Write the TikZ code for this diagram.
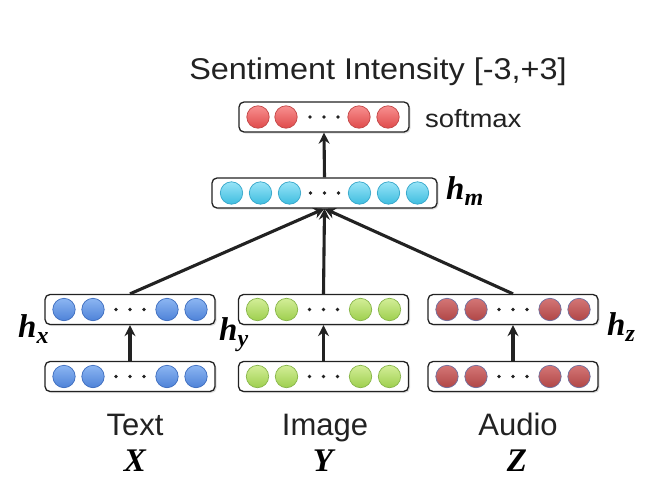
\documentclass[tikz,border=0pt]{standalone}
\usepackage{fontspec}
\setmainfont{Liberation Sans}
\newfontfamily\hfont{Liberation Serif}
\usetikzlibrary{arrows.meta,shadows}
\definecolor{blueT}{HTML}{8CB6F2}\definecolor{blueB}{HTML}{4E82D8}\definecolor{blueD}{HTML}{3C6CBE}
\definecolor{greenT}{HTML}{D3EE98}\definecolor{greenB}{HTML}{9ECF4E}\definecolor{greenD}{HTML}{88B64A}
\definecolor{cyanT}{HTML}{98E4F7}\definecolor{cyanB}{HTML}{3EBDE0}\definecolor{cyanD}{HTML}{34A6CA}
\definecolor{redT}{HTML}{F79090}\definecolor{redB}{HTML}{E04A4A}\definecolor{redD}{HTML}{C24646}
\definecolor{audT}{HTML}{D47676}\definecolor{audB}{HTML}{B04646}\definecolor{audD}{HTML}{6E6E9E}
\definecolor{ink}{HTML}{222222}
\tikzset{
  layerbox/.style={draw=ink, rounded corners=5pt, line width=1.3pt, fill=white,
    minimum height=30pt, inner sep=0pt,
    drop shadow={opacity=0.25, shadow xshift=1.5pt, shadow yshift=-1.5pt}},
  bluec/.style={top color=blueT, bottom color=blueB, draw=blueD, line width=0.7pt},
  greenc/.style={top color=greenT, bottom color=greenB, draw=greenD, line width=0.7pt},
  cyanc/.style={top color=cyanT, bottom color=cyanB, draw=cyanD, line width=0.7pt},
  redc/.style={top color=redT, bottom color=redB, draw=redD, line width=0.7pt},
  audc/.style={top color=audT, bottom color=audB, draw=audD, line width=0.7pt},
  arr/.style={draw=ink, line width=3.1pt, -{Stealth[length=11pt,width=11pt]}},
  lbl/.style={inner sep=0pt, text=ink, font=\fontsize{31}{36}\selectfont},
  mlbl/.style={inner sep=0pt, text=black, font=\hfont\bfseries\itshape\fontsize{33}{36}\selectfont},
}
\newcommand{\mylayer}[6]{%
  \node[layerbox, minimum width=#4] (#1) at (#2,#3) {};
  \foreach \o in {#5} \path[#6] ([xshift=\o pt]#1.center) circle (11.2pt);
  \foreach \o in {-14,0,14} \fill[ink] ([xshift=\o pt]#1.center) circle (1.9pt);
}
\newcommand{\hsub}[1]{h\raisebox{-6pt}{\fontsize{24}{26}\selectfont #1}}
\begin{document}
\begin{tikzpicture}[x=1pt,y=-1pt]
\useasboundingbox[fill=white] (0,0) rectangle (656,498);
% bottom input layers
\mylayer{tx}{130}{376.5}{170pt}{-66,-37,37,66}{bluec}
\mylayer{im}{323.5}{376.5}{170pt}{-66,-37,37,66}{greenc}
\mylayer{au}{513}{376.5}{170pt}{-66,-37,37,66}{audc}
% hidden layers
\mylayer{hx}{130}{309.5}{170pt}{-66,-37,37,66}{bluec}
\mylayer{hy}{323.5}{309.5}{170pt}{-66,-37,37,66}{greenc}
\mylayer{hz}{513}{309.5}{170pt}{-66,-37,37,66}{audc}
% fusion
\mylayer{hm}{324.5}{193}{225pt}{-93,-64,-35,35,64,93}{cyanc}
% output
\mylayer{sm}{324}{117}{170pt}{-66,-38,35,64}{redc}
% arrows
\draw[arr] (tx.north) -- (hx.south);
\draw[arr] (im.north) -- (hy.south);
\draw[arr] (au.north) -- (hz.south);
\draw[arr] (hx.north) -- (hm.south);
\draw[arr] (hy.north) -- (hm.south);
\draw[arr] (hz.north) -- (hm.south);
\draw[arr] (hm.north) -- (sm.south);
% labels
\node[lbl, anchor=base, font=\fontsize{30}{36}\selectfont] (title) at (378,79) {\scalebox{1.08}[1]{Sentiment Intensity [-3,+3]}};
\node[lbl, anchor=base west, font=\fontsize{25}{30}\selectfont] (soft) at (425,127) {\scalebox{1.1}[1]{softmax}};
\node[mlbl, anchor=base west] (lhm) at (446,199) {\hsub{m}};
\node[mlbl, anchor=base west] (lhx) at (18,337) {\hsub{x}};
\node[mlbl, anchor=base west] (lhy) at (219,340) {\hsub{y}};
\node[mlbl, anchor=base west] (lhz) at (607,335) {\hsub{z}};
\node[lbl, anchor=base] (ltx) at (135,435) {Text};
\node[lbl, anchor=base] (lim) at (325,435) {Image};
\node[lbl, anchor=base] (lau) at (518,435) {Audio};
\node[mlbl, anchor=base] (lX) at (135,471) {X};
\node[mlbl, anchor=base] (lY) at (323,471) {Y};
\node[mlbl, anchor=base] (lZ) at (517,471) {Z};
\end{tikzpicture}
\end{document}
